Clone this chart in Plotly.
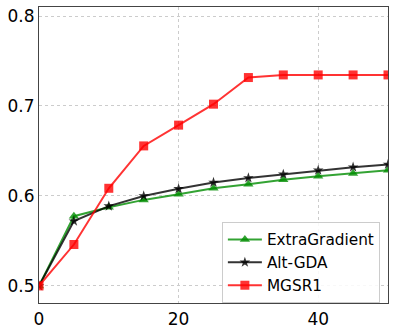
import plotly.graph_objects as go

x_vals = [0, 5, 10, 15, 20, 25, 30, 35, 40, 45, 50]
extragradient = [0.500, 0.5775, 0.5875, 0.5956, 0.602, 0.6085, 0.613, 0.618, 0.622, 0.625, 0.6285]
alt_gda = [0.500, 0.572, 0.5887, 0.600, 0.608, 0.615, 0.620, 0.624, 0.6285, 0.632, 0.635]
mgsr1 = [0.500, 0.546, 0.6085, 0.6556, 0.6787, 0.702, 0.7316, 0.7345, 0.7345, 0.7345, 0.7345]

x_ticks = [0, 20, 40]
y_ticks = [0.5, 0.6, 0.7, 0.8]

font_family = "DejaVu Sans"
green = "rgba(0,140,0,0.8)"
black = "rgba(0,0,0,0.8)"
red = "rgba(255,0,0,0.8)"

fig = go.Figure()
fig.add_trace(go.Scatter(x=x_vals, y=extragradient, mode="lines+markers", name="ExtraGradient",
                         line=dict(color=green, width=2),
                         marker=dict(symbol="triangle-up", size=9, color=green)))
fig.add_trace(go.Scatter(x=x_vals, y=alt_gda, mode="lines+markers", name="Alt-GDA",
                         line=dict(color=black, width=2),
                         marker=dict(symbol="star", size=8, color=black)))
fig.add_trace(go.Scatter(x=x_vals, y=mgsr1, mode="lines+markers", name="MGSR1",
                         line=dict(color=red, width=2),
                         marker=dict(symbol="square", size=9, color=red)))

fig.update_layout(
    width=395, height=335,
    margin=dict(l=39, r=7, t=6, b=30),
    paper_bgcolor="white", plot_bgcolor="white",
    font=dict(family=font_family, size=16, color="black"),
    showlegend=True,
    legend=dict(x=0.524, y=0.0, xanchor="left", yanchor="bottom",
                bgcolor="rgba(255,255,255,0.85)", bordercolor="#cccccc", borderwidth=1,
                font=dict(size=15.3), tracegroupgap=0, itemwidth=34),
)
fig.update_xaxes(range=[0, 50], tickvals=x_ticks, showgrid=True, gridcolor="#cccccc", griddash="dot",
                 gridwidth=1, showline=True, linecolor="#444444", linewidth=1.2, mirror=True,
                 ticks="", zeroline=False, tickfont=dict(size=17))
fig.update_yaxes(range=[0.481, 0.81], tickvals=y_ticks, ticktext=["0.5", "0.6", "0.7", "0.8"],
                 showgrid=True, gridcolor="#cccccc", griddash="dot",
                 gridwidth=1, showline=True, linecolor="#444444", linewidth=1.2, mirror=True,
                 ticks="", zeroline=False, tickfont=dict(size=17))

fig.write_html("out.html", config={"displayModeBar": False},
               post_script="document.body.style.margin='0';document.body.style.overflow='hidden';")
